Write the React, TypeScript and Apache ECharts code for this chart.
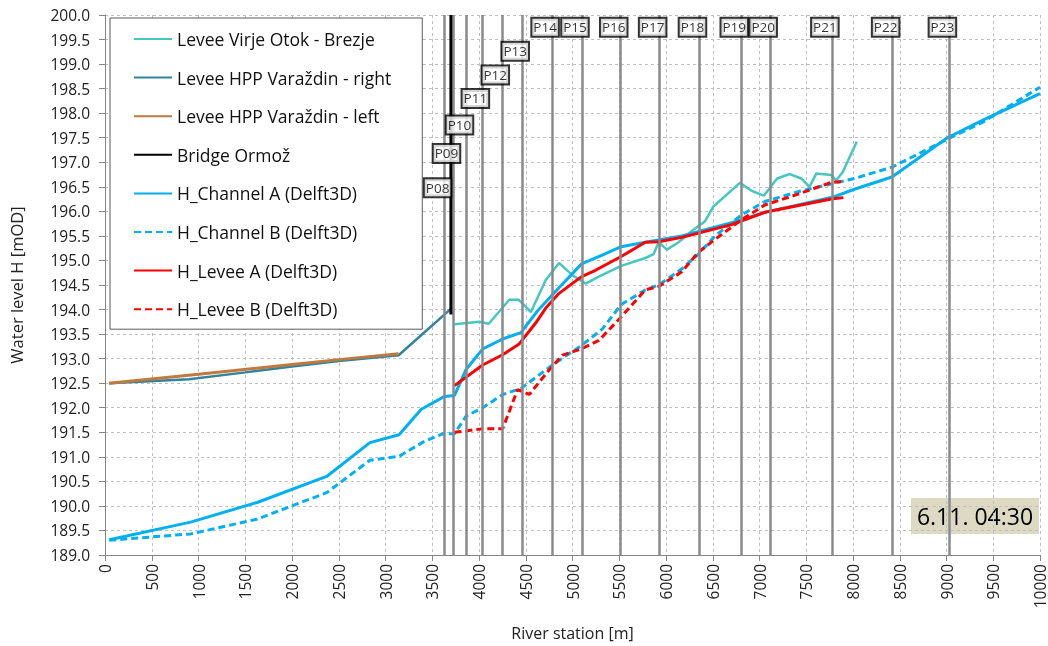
import React, { useEffect, useRef } from "react";
import * as echarts from "echarts";

// ---- data ----
const leveeVirje: number[][] = [
  [3738, 193.7], [4004, 193.75], [4104, 193.71], [4324, 194.2], [4423, 194.2], [4555, 193.95],
  [4714, 194.6], [4856, 194.95], [4998, 194.7], [5140, 194.53], [5282, 194.67], [5520, 194.89],
  [5779, 195.05], [5868, 195.13], [5921, 195.37], [6010, 195.22], [6134, 195.37], [6276, 195.6],
  [6418, 195.8], [6507, 196.1], [6791, 196.58], [6915, 196.42], [7046, 196.32], [7188, 196.67],
  [7323, 196.76], [7447, 196.67], [7535, 196.5], [7607, 196.77], [7767, 196.74], [7820, 196.63],
  [7891, 196.8], [8040, 197.42],
];
const leveeHppRight: number[][] = [
  [43, 192.5], [900, 192.58], [1500, 192.72], [2000, 192.84], [2500, 192.95], [3140, 193.07], [3720, 194.05],
];
const leveeHppLeft: number[][] = [
  [43, 192.5], [1000, 192.68], [2000, 192.88], [2500, 192.98], [3140, 193.1],
];
const bridgeOrmoz: number[][] = [[3705, 193.9], [3705, 200]];
const channelA: number[][] = [
  [46, 189.31], [916, 189.67], [1626, 190.07], [2371, 190.6], [2833, 191.29], [3145, 191.45],
  [3383, 191.97], [3632, 192.23], [3738, 192.25], [3862, 192.78], [4040, 193.2], [4253, 193.4],
  [4448, 193.53], [4625, 193.97], [4785, 194.3], [5097, 194.93], [5318, 195.11], [5520, 195.28],
  [5779, 195.37], [6170, 195.5], [6702, 195.77], [7057, 195.98], [7802, 196.3], [8015, 196.45],
  [8416, 196.7], [9010, 197.5], [9400, 197.87], [10000, 198.4],
];
const channelB: number[][] = [
  [46, 189.3], [916, 189.43], [1626, 189.73], [2371, 190.27], [2833, 190.93], [3145, 191.01],
  [3401, 191.3], [3614, 191.47], [3738, 191.47], [3862, 191.83], [4040, 192.0], [4253, 192.27],
  [4448, 192.39], [4785, 192.87], [5097, 193.27], [5318, 193.6], [5520, 194.1], [5779, 194.4],
  [5921, 194.5], [6170, 194.83], [6347, 195.13], [6525, 195.5], [6809, 195.93], [7057, 196.2],
  [7412, 196.4], [8015, 196.67], [8416, 196.9], [9010, 197.47], [9400, 197.83], [10000, 198.53],
];
const leveeA: number[][] = [
  [3738, 192.45], [4040, 192.87], [4253, 193.08], [4430, 193.3], [4608, 193.73], [4714, 194.03],
  [4856, 194.33], [5097, 194.67], [5246, 194.8], [5520, 195.08], [5779, 195.37], [5921, 195.38],
  [6170, 195.47], [6702, 195.73], [7057, 195.98], [7767, 196.25], [7897, 196.28],
];
const leveeB: number[][] = [
  [3738, 191.5], [4040, 191.57], [4253, 191.57], [4413, 192.37], [4537, 192.27], [4750, 192.77],
  [4892, 193.07], [5097, 193.2], [5282, 193.37], [5520, 193.85], [5779, 194.4], [5921, 194.47],
  [6170, 194.77], [6347, 195.17], [6525, 195.43], [6809, 195.83], [7057, 196.13], [7412, 196.35],
  [7767, 196.59], [7897, 196.61],
];
const sectionNames = ["P08", "P09", "P10", "P11", "P12", "P13", "P14", "P15", "P16", "P17", "P18", "P19", "P20", "P21", "P22", "P23"];
const sectionStations = [3632, 3727, 3866, 4036, 4249, 4462, 4782, 5101, 5516, 5932, 6358, 6805, 7114, 7774, 8424, 9031];
const sectionLabelLevels = [196.48, 197.18, 197.76, 198.3, 198.78, 199.26, 199.75, 199.75, 199.75, 199.75, 199.75, 199.75, 199.75, 199.75, 199.75, 199.75];
const annotationText = "6.11. 04:30";
const xAxisName = "River station [m]";
const yAxisName = "Water level H [mOD]";

const FONT = "'Open Sans', sans-serif";

export default function App() {
  const ref = useRef<HTMLDivElement>(null);
  useEffect(() => {
    if (!ref.current) return;
    const chart = echarts.init(ref.current, undefined, { renderer: "svg" });
    const blue = "#00b0f0";
    const red = "#ff0000";
    const dash = [7, 4];
    const lineSeries = (name: string, data: number[][], color: string, width: number, type: any = "solid") => ({
      name,
      type: "line",
      data,
      symbol: "none",
      z: 3,
      lineStyle: { color, width, type },
      itemStyle: { color },
    });
    const sectionPoints = sectionNames.map((n, i) => ({ name: n, value: [sectionStations[i], sectionLabelLevels[i]] }));
    chart.setOption({
      animation: false,
      textStyle: { fontFamily: FONT },
      grid: { left: 104, right: 5, top: 15, bottom: 81, containLabel: false },
      legend: {
        orient: "vertical",
        left: 110,
        top: 18,
        padding: [11, 31, 10, 23],
        itemGap: 18.6,
        itemWidth: 38,
        itemHeight: 14,
        backgroundColor: "#ffffff",
        borderColor: "#595959",
        borderWidth: 1,
        itemStyle: { opacity: 0 },
        textStyle: { fontSize: 17.5, lineHeight: 20, color: "#111", fontFamily: FONT },
        data: [
          "Levee Virje Otok - Brezje",
          "Levee HPP Varaždin - right",
          "Levee HPP Varaždin - left",
          "Bridge Ormož",
          "H_Channel A (Delft3D)",
          "H_Channel B (Delft3D)",
          "H_Levee A (Delft3D)",
          "H_Levee B (Delft3D)",
        ],
      },
      xAxis: {
        type: "value",
        min: 0,
        max: 10000,
        interval: 500,
        name: xAxisName,
        nameLocation: "middle",
        nameGap: 70,
        nameTextStyle: { fontSize: 16, color: "#222", fontFamily: FONT },
        axisLine: { lineStyle: { color: "#868686", width: 1 } },
        axisTick: { show: true, length: 6, lineStyle: { color: "#868686" } },
        axisLabel: { rotate: 90, fontSize: 15.5, color: "#222", margin: 9, fontFamily: FONT, formatter: (v: number) => String(v) },
        splitLine: { show: true, lineStyle: { color: "#bfbfbf", type: [3, 3], width: 1 } },
      },
      yAxis: {
        type: "value",
        min: 189,
        max: 200,
        interval: 0.5,
        name: yAxisName,
        nameLocation: "middle",
        nameGap: 80,
        nameTextStyle: { fontSize: 16.5, color: "#222", fontFamily: FONT },
        axisLine: { show: true, lineStyle: { color: "#868686", width: 1 } },
        axisTick: { show: true, length: 6, lineStyle: { color: "#868686" } },
        axisLabel: { fontSize: 15.5, color: "#222", margin: 15, fontFamily: FONT, formatter: (v: number) => v.toFixed(1) },
        splitLine: { show: true, lineStyle: { color: "#bfbfbf", type: [3, 3], width: 1 } },
      },
      series: [
        {
          name: "sections",
          type: "line",
          data: sectionPoints,
          symbol: "none",
          lineStyle: { opacity: 0 },
          z: 1,
          silent: true,
          markLine: {
            silent: true,
            symbol: ["none", "none"],
            label: { show: false },
            lineStyle: { color: "#8a8a8a", width: 2.5, type: "solid" },
            data: sectionStations.map((s) => ({ xAxis: s })),
          },
        },
        lineSeries("Levee Virje Otok - Brezje", leveeVirje, "#45c7c0", 2.5),
        lineSeries("Levee HPP Varaždin - right", leveeHppRight, "#31849b", 2.5),
        lineSeries("Levee HPP Varaždin - left", leveeHppLeft, "#c0793e", 3),
        lineSeries("Bridge Ormož", bridgeOrmoz, "#000000", 4),
        lineSeries("H_Channel A (Delft3D)", channelA, blue, 3),
        lineSeries("H_Channel B (Delft3D)", channelB, blue, 3, dash),
        lineSeries("H_Levee A (Delft3D)", leveeA, red, 3),
        lineSeries("H_Levee B (Delft3D)", leveeB, red, 3, dash),
        {
          name: "sectionLabels",
          type: "scatter",
          data: sectionPoints,
          symbolSize: 0,
          z: 6,
          silent: true,
          label: {
            show: true,
            position: "inside",
            offset: [-7, 0],
            formatter: (p: any) => p.name,
            fontSize: 13.5,
            color: "#000",
            fontFamily: FONT,
            backgroundColor: "#ffffff",
            borderColor: "#000000",
            borderWidth: 2,
            padding: [2, 1, 1, 1],
          },
        },
      ],
      graphic: [
        {
          type: "group",
          z: 10,
          children: [
            { type: "rect", shape: { x: 911, y: 498, width: 128, height: 36 }, style: { fill: "#ddd9c3" } },
            {
              type: "text",
              x: 975,
              y: 516,
              style: { text: annotationText, fontSize: 23, fill: "#000", textAlign: "center", textVerticalAlign: "middle", fontFamily: FONT },
            },
          ],
        },
      ],
    });
    return () => chart.dispose();
  }, []);
  return <div ref={ref} style={{ position: "fixed", left: 0, top: 0, width: 1048, height: 646 }} />;
}
